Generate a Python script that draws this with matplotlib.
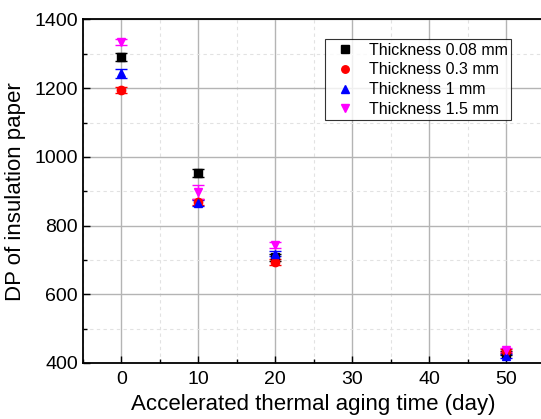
import matplotlib
matplotlib.use('Agg')
import matplotlib.pyplot as plt
from matplotlib.ticker import MultipleLocator

plt.rcParams['font.family'] = ['Liberation Sans', 'DejaVu Sans']

# aging time (day)
days = [0, 10, 20, 50]
labels = ['Thickness 0.08 mm', 'Thickness 0.3 mm', 'Thickness 1 mm', 'Thickness 1.5 mm']
dp_008 = [1290, 952, 708, 428]
dp_03 = [1195, 868, 693, 434]
dp_1 = [1243, 866, 718, 421]
dp_15 = [1334, 897, 743, 438]
err_008 = [12, 12, 10, 6]
err_03 = [8, 8, 9, 6]
err_1 = [14, 8, 8, 6]
err_15 = [8, 20, 8, 6]

series = [dp_008, dp_03, dp_1, dp_15]
errs = [err_008, err_03, err_1, err_15]
markers = ['s', 'o', '^', 'v']
colors = ['black', 'red', 'blue', 'magenta']

fig = plt.figure(figsize=(5.41, 4.19), dpi=100)
ax = fig.add_axes([0.1529, 0.1337, 0.8536, 0.8198])

# grid first so points sit on top
ax.grid(which='major', color='#b4b4b4', linestyle='-', linewidth=1.0, zorder=0)
ax.grid(which='minor', color='#e2e2e2', linestyle=(0, (3, 3)), linewidth=0.8, zorder=0)
ax.set_axisbelow(True)

for y, e, m, c, l in zip(series, errs, markers, colors, labels):
    ax.errorbar(days, y, yerr=e, fmt=m, color=c, ecolor=c, markersize=6,
                capsize=4, elinewidth=1, capthick=1, label=l, zorder=3)

ax.set_xlim(-5, 55)
ax.set_ylim(400, 1400)
ax.xaxis.set_major_locator(MultipleLocator(10))
ax.xaxis.set_minor_locator(MultipleLocator(5))
ax.yaxis.set_major_locator(MultipleLocator(200))
ax.yaxis.set_minor_locator(MultipleLocator(100))
ax.tick_params(which='both', direction='in', labelsize=14)
ax.tick_params(which='major', length=5, width=1)
ax.tick_params(which='minor', length=3, width=1)
ax.tick_params(axis='x', pad=6)
for s in ax.spines.values():
    s.set_linewidth(1.3)

ax.set_xlabel('Accelerated thermal aging time (day)', fontsize=16, labelpad=4)
ax.set_ylabel('DP of insulation paper', fontsize=16, labelpad=6)

handles, lbls = ax.get_legend_handles_labels()
handles = [h[0] for h in handles]
leg = ax.legend(handles, lbls, loc='upper right', bbox_to_anchor=(0.9285, 0.942),
                fontsize=11.5, frameon=True, fancybox=False, edgecolor='black',
                handlelength=2.2, handletextpad=0.4, borderpad=0.2,
                borderaxespad=0, labelspacing=0.3, markerscale=0.9)
leg.get_frame().set_linewidth(0.8)

fig.savefig('out.png', dpi=100)
